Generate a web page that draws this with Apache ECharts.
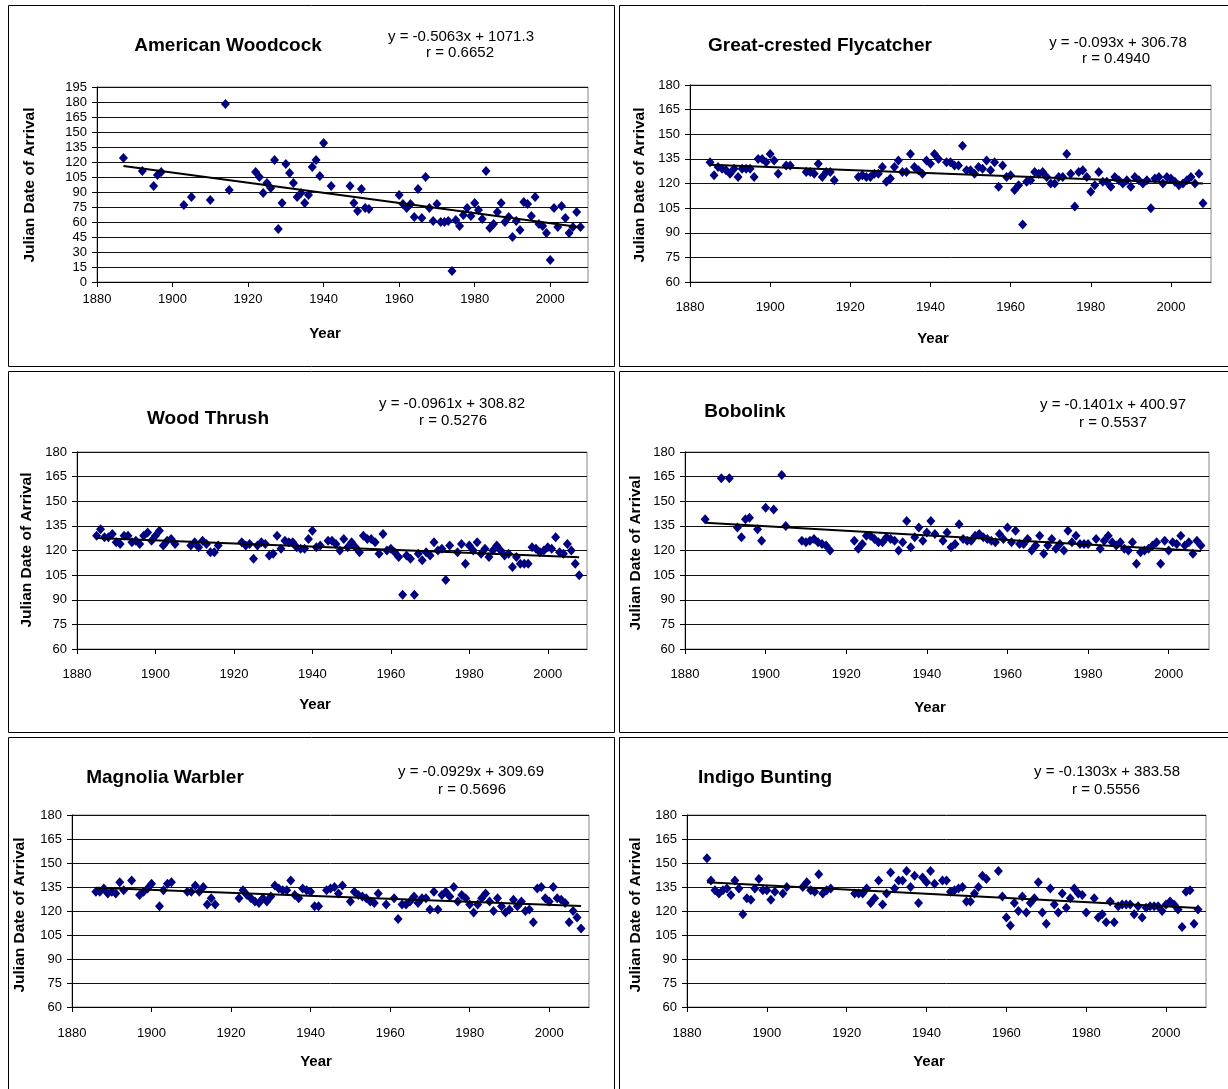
<!DOCTYPE html>
<html><head><meta charset="utf-8">
<script src="https://cdn.jsdelivr.net/npm/echarts@6/dist/echarts.min.js"></script>
<style>html,body{margin:0;padding:0;background:#fff}#c{width:1228px;height:1089px}</style>
</head><body><div id="c"></div><script>
const speciesNames = ['American Woodcock','Great-crested Flycatcher','Wood Thrush','Bobolink','Magnolia Warbler','Indigo Bunting'];
const equations = ['y = -0.5063x + 1071.3','y = -0.093x + 306.78','y = -0.0961x + 308.82','y = -0.1401x + 400.97','y = -0.0929x + 309.69','y = -0.1303x + 383.58'];
const rValues = ['r = 0.6652','r = 0.4940','r = 0.5276','r = 0.5537','r = 0.5696','r = 0.5556'];
const slopes = [-0.5063,-0.093,-0.0961,-0.1401,-0.0929,-0.1303];
const intercepts = [1071.3,306.78,308.82,400.97,309.69,383.58];
const xTickValues = [1880,1900,1920,1940,1960,1980,2000];
const yAxisTitle = 'Julian Date of Arrival';
const xAxisTitle = 'Year';

const woodcockData = [[1887,124],[1892,111],[1895,96],[1896,107],[1897,110],[1903,77],[1905,85],[1910,82],[1914,178],[1915,92],
[1922,110],[1923,105],[1924,89],[1925,99],[1926,94],[1927,122],[1928,53],[1929,79],[1930,118],[1931,109],[1932,99],[1933,85],[1934,89],[1935,79],[1936,87],[1937,115],[1938,122],[1939,106],[1940,139],[1942,96],
[1947,96],[1948,79],[1949,71],[1950,93],[1951,74],[1952,73],
[1960,87],[1961,78],[1962,74],[1963,78],[1964,65],[1965,93],[1966,64],[1967,105],[1968,74],[1969,61],
[1970,78],[1971,60],[1972,60],[1973,61],[1974,11],[1975,62],[1976,56],[1977,67],[1978,74],[1979,66],
[1980,79],[1981,72],[1982,63],[1983,111],[1984,54],[1985,58],[1986,70],[1987,79],[1988,60],[1989,65],
[1990,45],[1991,61],[1992,52],[1993,80],[1994,78],[1995,66],[1996,85],[1997,58],[1998,56],[1999,49],
[2000,22],[2001,74],[2002,55],[2003,76],[2004,64],[2005,49],[2006,55],[2007,70],[2008,55]];

const flycatcherData = [[1885,133],[1886,125],[1887,130],[1888,129],[1889,128],[1890,126],[1891,129],[1892,124],[1893,129],[1894,129],[1895,129],[1896,124],[1897,135],[1898,135],[1899,133],[1900,138],[1901,134],[1902,126],[1904,131],[1905,131],
[1909,127],[1910,127],[1911,126],[1912,132],[1913,124],[1914,127],[1915,127],[1916,122],
[1922,124],[1923,125],[1924,124],[1925,124],[1926,126],[1927,126],[1928,130],[1929,121],[1930,123],[1931,130],[1932,134],[1933,127],[1934,127],[1935,138],[1936,130],[1937,128],[1938,126],[1939,134],[1940,132],[1941,138],[1942,135],
[1944,133],[1945,133],[1946,131],[1947,131],[1948,143],[1949,128],[1950,128],[1951,126],[1952,130],[1953,129],[1954,134],[1955,128],[1956,133],[1957,118],[1958,131],[1959,124],
[1960,125],[1961,116],[1962,119],[1963,95],[1964,121],[1965,122],[1966,127],[1967,126],[1968,127],[1969,124],
[1970,120],[1971,120],[1972,124],[1973,124],[1974,138],[1975,126],[1976,106],[1977,127],[1978,128],[1979,124],
[1980,115],[1981,119],[1982,127],[1983,121],[1984,121],[1985,118],[1986,124],[1987,122],[1988,120],[1989,122],
[1990,118],[1991,124],[1992,122],[1993,120],[1994,122],[1995,105],[1996,123],[1997,124],[1998,120],[1999,124],
[2000,123],[2001,121],[2002,119],[2003,120],[2004,122],[2005,124],[2006,120],[2007,126],[2008,108]];

const thrushData = [[1885,129],[1886,133],[1887,128],[1888,128],[1889,130],[1890,125],[1891,124],[1892,129],[1893,129],[1894,125],[1895,126],[1896,124],[1897,129],[1898,131],[1899,126],[1900,129],[1901,132],[1902,123],[1903,126],[1904,127],[1905,124],
[1909,123],[1910,125],[1911,122],[1912,126],[1913,124],[1914,119],[1915,119],[1916,123],
[1922,125],[1923,123],[1924,124],[1925,115],[1926,123],[1927,125],[1928,124],[1929,117],[1930,118],[1931,129],[1932,121],[1933,126],[1934,125],[1935,125],[1936,122],[1937,121],[1938,121],[1939,127],[1940,132],[1941,122],[1942,123],
[1944,126],[1945,126],[1946,124],[1947,120],[1948,127],[1949,122],[1950,125],[1951,122],[1952,119],[1953,129],[1954,127],[1955,127],[1956,125],[1957,118],[1958,130],[1959,120],
[1960,121],[1961,119],[1962,116],[1963,93],[1964,117],[1965,115],[1966,93],[1967,118],[1968,114],[1969,119],
[1970,117],[1971,125],[1972,120],[1973,121],[1974,102],[1975,123],[1977,119],[1978,124],[1979,112],
[1980,123],[1981,120],[1982,125],[1983,118],[1984,121],[1985,116],[1986,120],[1987,123],[1988,120],[1989,117],
[1990,118],[1991,110],[1992,116],[1993,112],[1994,112],[1995,112],[1996,122],[1997,121],[1998,119],[1999,120],
[2000,122],[2001,121],[2002,128],[2003,119],[2004,118],[2005,124],[2006,120],[2007,112],[2008,105]];

const bobolinkData = [[1885,139],[1889,164],[1891,164],[1893,134],[1894,128],[1895,139],[1896,140],[1898,133],[1899,126],[1900,146],[1902,145],[1904,166],[1905,135],
[1909,126],[1910,125],[1911,126],[1912,127],[1913,125],[1914,124],[1915,123],[1916,120],
[1922,126],[1923,121],[1924,124],[1925,129],[1926,129],[1927,127],[1928,125],[1929,125],[1930,128],[1931,127],[1932,126],[1933,120],[1934,125],[1935,138],[1936,122],[1937,128],[1938,134],[1939,126],[1940,131],[1941,138],[1942,130],
[1944,126],[1945,131],[1946,122],[1947,124],[1948,136],[1949,127],[1950,126],[1951,126],[1952,129],[1953,130],[1954,128],[1955,127],[1956,126],[1957,125],[1958,130],[1959,127],
[1960,134],[1961,125],[1962,132],[1963,124],[1964,124],[1965,127],[1966,120],[1967,123],[1968,129],[1969,118],
[1970,123],[1971,127],[1972,121],[1973,124],[1974,120],[1975,132],[1976,125],[1977,129],[1978,124],[1979,124],
[1980,124],[1982,127],[1983,121],[1984,126],[1985,129],[1986,125],[1987,123],[1988,125],[1989,121],
[1990,120],[1991,125],[1992,112],[1993,119],[1994,120],[1995,121],[1996,123],[1997,125],[1998,112],[1999,126],
[2000,120],[2001,125],[2002,124],[2003,129],[2004,123],[2005,125],[2006,118],[2007,126],[2008,123]];

const warblerData = [[1886,132],[1887,132],[1888,134],[1889,131],[1890,132],[1891,131],[1892,138],[1893,133],[1895,139],[1897,130],[1898,132],[1899,134],[1900,137],[1902,123],[1903,133],[1904,137],[1905,138],
[1909,132],[1910,132],[1911,136],[1912,132],[1913,135],[1914,124],[1915,128],[1916,124],
[1922,128],[1923,133],[1924,130],[1925,128],[1926,126],[1927,125],[1928,128],[1929,126],[1930,129],[1931,136],[1932,134],[1933,133],[1934,133],[1935,139],[1936,130],[1937,128],[1938,134],[1939,133],[1940,132],[1941,123],[1942,123],
[1944,133],[1945,134],[1946,135],[1947,131],[1948,136],[1950,126],[1951,132],[1952,130],[1953,129],[1954,128],[1955,126],[1956,125],[1957,131],[1959,124],
[1961,128],[1962,115],[1963,124],[1964,124],[1965,126],[1966,129],[1967,125],[1968,128],[1969,128],
[1970,121],[1971,132],[1972,121],[1973,130],[1974,132],[1975,129],[1976,135],[1977,126],[1978,130],[1979,128],
[1980,124],[1981,119],[1982,124],[1983,128],[1984,131],[1985,126],[1986,120],[1987,128],[1988,123],[1989,119],
[1990,121],[1991,127],[1992,123],[1993,126],[1994,120],[1995,121],[1996,113],[1997,134],[1998,135],[1999,128],
[2000,126],[2001,135],[2002,128],[2003,127],[2004,125],[2005,113],[2006,120],[2007,116],[2008,109]];

const buntingData = [[1885,153],[1886,139],[1887,133],[1888,131],[1889,133],[1890,134],[1891,130],[1892,139],[1893,134],[1894,118],[1895,128],[1896,127],[1897,134],[1898,140],[1899,133],[1900,133],[1901,127],[1902,132],[1904,131],[1905,135],
[1909,135],[1910,138],[1911,133],[1912,132],[1913,143],[1914,131],[1915,133],[1916,134],
[1922,131],[1923,131],[1924,131],[1925,134],[1926,125],[1927,128],[1928,139],[1929,124],[1930,131],[1931,144],[1932,134],[1933,139],[1934,139],[1935,145],[1936,135],[1937,142],[1938,125],[1939,141],[1940,138],[1941,145],[1942,137],
[1944,139],[1945,139],[1946,132],[1947,133],[1948,134],[1949,135],[1950,126],[1951,126],[1952,131],[1953,135],[1954,142],[1955,140],[1958,145],[1959,129],
[1960,116],[1961,111],[1962,125],[1963,120],[1964,129],[1965,119],[1966,125],[1967,128],[1968,138],[1969,119],
[1970,112],[1971,134],[1972,124],[1973,119],[1974,131],[1975,122],[1976,128],[1977,134],[1978,131],[1979,130],
[1980,119],[1982,128],[1983,116],[1984,118],[1985,113],[1986,126],[1987,113],[1988,123],[1989,124],
[1990,124],[1991,124],[1992,118],[1993,123],[1994,116],[1995,122],[1996,123],[1997,123],[1998,123],[1999,120],
[2000,124],[2001,126],[2002,124],[2003,121],[2004,110],[2005,132],[2006,133],[2007,112],[2008,121]];

const allData = [woodcockData, flycatcherData, thrushData, bobolinkData, warblerData, buntingData];

// layout (positions only)
const panels = [
  {box:[8.5,5.5,606,361], grid:[97,87,491,195], y:[0,195], title:[228,46], eq:[461,37], r:[460,53], yl:[30,185], xl:[325,334], xm:11},
  {box:[619.5,5.5,612,361], grid:[690,85,521,197], y:[60,180], title:[820,46], eq:[1118,43], r:[1116,59], yl:[640,185], xl:[933,339], xm:19},
  {box:[8.5,371.5,606,361], grid:[77,452,510,197], y:[60,180], title:[208,419], eq:[452,404], r:[453,421], yl:[27,550], xl:[315,705], xm:19},
  {box:[619.5,371.5,612,361], grid:[685,452,524,197], y:[60,180], title:[745,412], eq:[1113,405], r:[1113,423], yl:[636,553], xl:[930,708], xm:19},
  {box:[8.5,737.5,606,360], grid:[72,815,517,192], y:[60,180], title:[165,778], eq:[471,772], r:[472,790], yl:[20,915], xl:[316,1062], xm:20},
  {box:[619.5,737.5,612,360], grid:[687,815,519,192], y:[60,180], title:[765,778], eq:[1107,772], r:[1106,790], yl:[636,915], xl:[929,1062], xm:20}
];

const FONT = '"Liberation Sans", Arial, sans-serif';
const grids = [], xAxes = [], yAxes = [], series = [], graphics = [];
panels.forEach((p, i) => {
  grids.push({left:p.grid[0], top:p.grid[1], width:p.grid[2], height:p.grid[3], show:true, borderColor:'#888', borderWidth:1, backgroundColor:'transparent'});
  xAxes.push({type:'value', gridIndex:i, min:1880, max:2010, interval:20,
    axisLine:{show:true, onZero:false, lineStyle:{color:'#000', width:1}},
    axisTick:{show:true, inside:false, length:5, customValues:xTickValues, lineStyle:{color:'#000'}},
    axisLabel:{color:'#000', fontSize:13, fontFamily:FONT, margin:p.xm, customValues:xTickValues, formatter:v => String(v)},
    splitLine:{show:false}});
  yAxes.push({type:'value', gridIndex:i, min:p.y[0], max:p.y[1], interval:15,
    axisLine:{show:true, onZero:false, lineStyle:{color:'#000', width:1}},
    axisTick:{show:true, inside:false, length:5, lineStyle:{color:'#000'}},
    axisLabel:{color:'#000', fontSize:13, fontFamily:FONT, margin:10},
    splitLine:{show:true, lineStyle:{color:'#111', width:1}}});
  const d = allData[i];
  series.push({type:'scatter', xAxisIndex:i, yAxisIndex:i, data:d, symbol:'diamond', symbolSize:[9,10],
    itemStyle:{color:'#000080', opacity:1}, z:3, animation:false});
  const x0 = d[0][0], x1 = d[d.length-1][0];
  series.push({type:'line', xAxisIndex:i, yAxisIndex:i, data:[[x0, slopes[i]*x0+intercepts[i]],[x1, slopes[i]*x1+intercepts[i]]],
    symbol:'none', lineStyle:{color:'#000', width:2}, z:4, animation:false});
  graphics.push({type:'rect', shape:{x:p.box[0], y:p.box[1], width:p.box[2], height:p.box[3]}, style:{fill:'none', stroke:'#000', lineWidth:1}, z:-1});
  graphics.push({type:'text', x:p.title[0], y:p.title[1], style:{text:speciesNames[i], align:'center', verticalAlign:'middle', font:'bold 19px '+FONT, fill:'#000'}});
  graphics.push({type:'text', x:p.eq[0], y:p.eq[1], style:{text:equations[i], align:'center', verticalAlign:'middle', font:'15px '+FONT, fill:'#000'}});
  graphics.push({type:'text', x:p.r[0], y:p.r[1], style:{text:rValues[i], align:'center', verticalAlign:'middle', font:'15px '+FONT, fill:'#000'}});
  graphics.push({type:'text', x:p.yl[0], y:p.yl[1], rotation:Math.PI/2, style:{text:yAxisTitle, align:'center', verticalAlign:'middle', font:'bold 15.5px '+FONT, fill:'#000'}});
  graphics.push({type:'text', x:p.xl[0], y:p.xl[1], style:{text:xAxisTitle, align:'center', verticalAlign:'middle', font:'bold 15px '+FONT, fill:'#000'}});
});

const chart = echarts.init(document.getElementById('c'), null, {renderer:'canvas'});
chart.setOption({animation:false, backgroundColor:'#fff', grid:grids, xAxis:xAxes, yAxis:yAxes, series:series, graphic:graphics});
</script></body></html>
